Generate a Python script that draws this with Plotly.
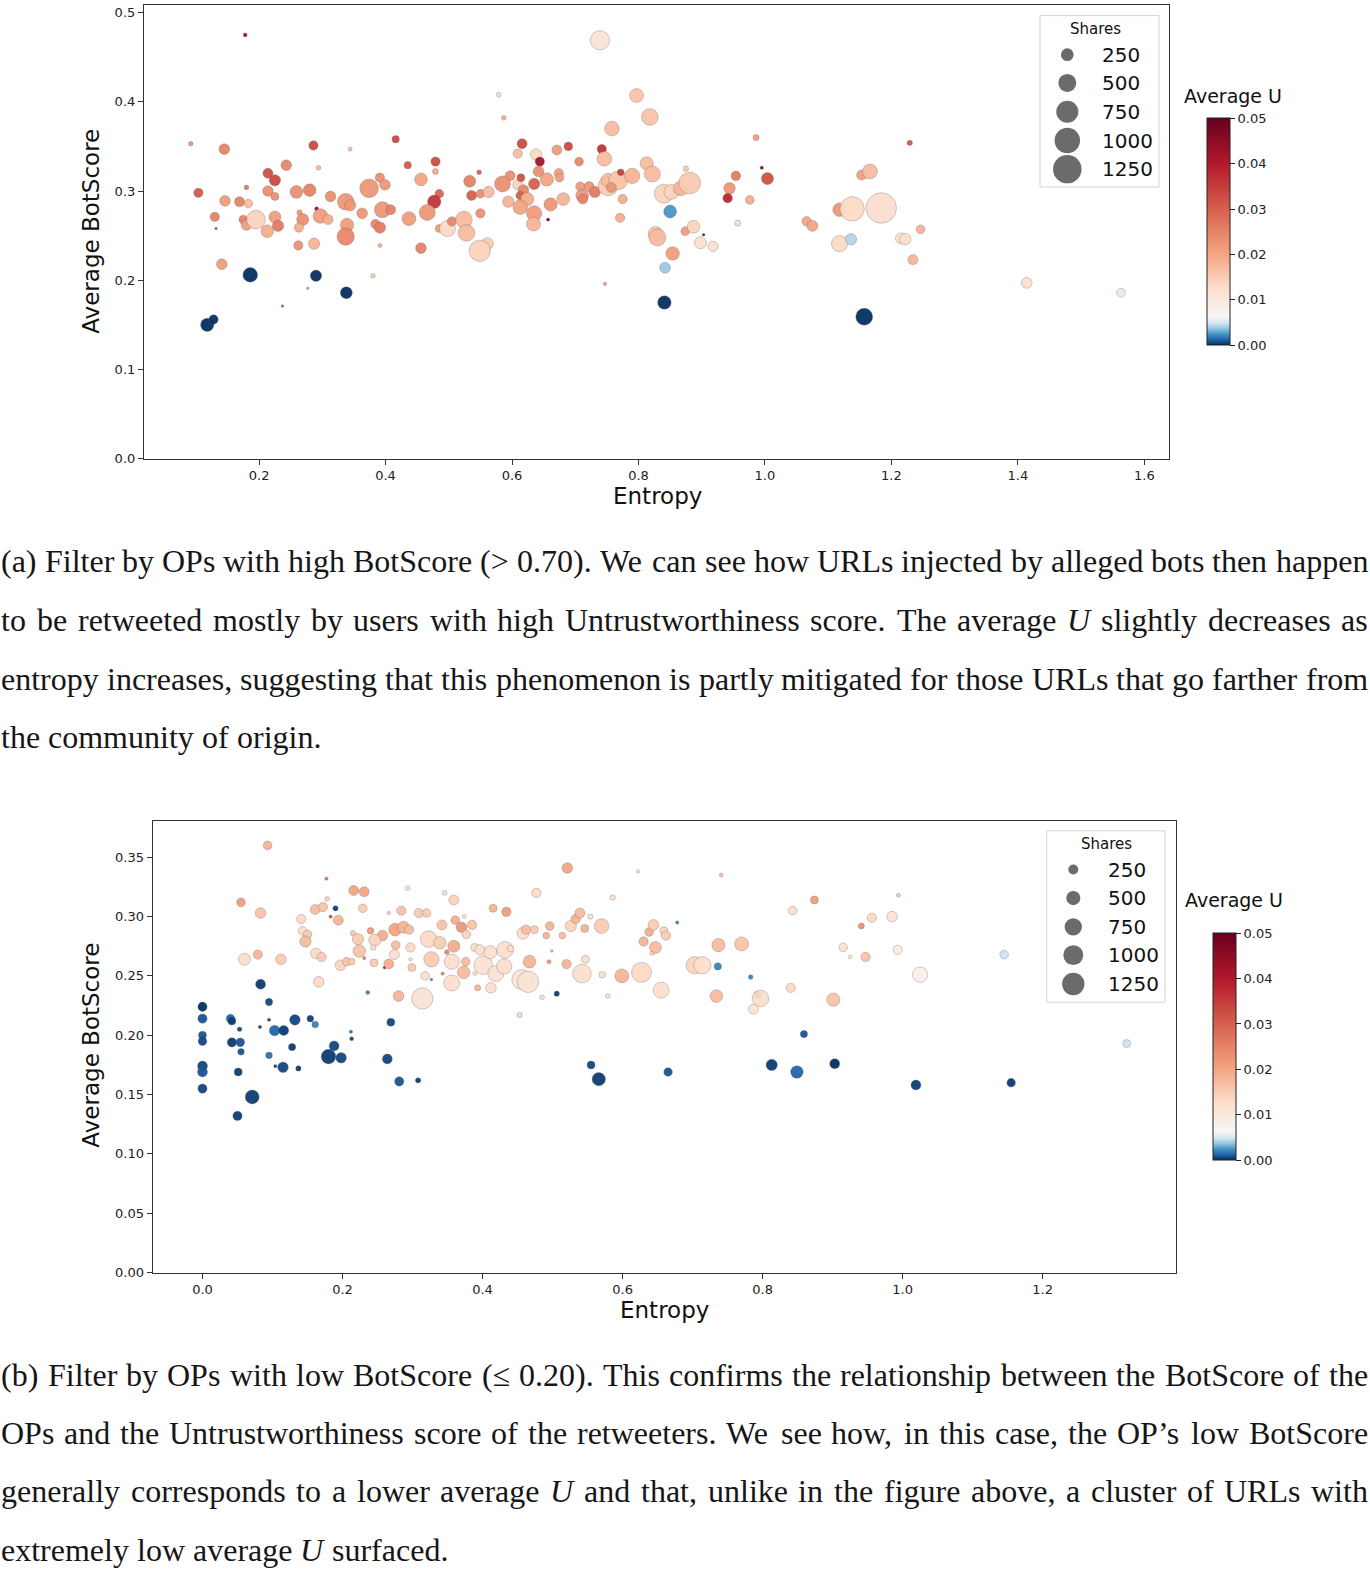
import math
import plotly.graph_objects as go

W = 1370
H = 1575

# ---------------- Data: (a) OPs with high BotScore ----------------
top_entropy = [
    0.178, 0.092, 0.145, 0.286, 0.344, 0.416, 0.104, 0.130, 0.132, 0.146,
    0.169, 0.180, 0.183, 0.175, 0.180, 0.195, 0.214, 0.225, 0.214, 0.225,
    0.243, 0.225, 0.230, 0.213, 0.259, 0.280, 0.294, 0.264, 0.269, 0.263,
    0.291, 0.297, 0.309, 0.313, 0.262, 0.287, 0.337, 0.344, 0.339, 0.337,
    0.363, 0.374, 0.391, 0.399, 0.395, 0.408, 0.384, 0.391, 0.391, 0.437,
    0.435, 0.456, 0.479, 0.479, 0.485, 0.477, 0.466, 0.456, 0.485, 0.498,
    0.505, 0.524, 0.528, 0.561, 0.549, 0.533, 0.548, 0.536, 0.550, 0.563,
    0.550, 0.587, 0.579, 0.616, 0.609, 0.638, 0.644, 0.671, 0.689, 0.706,
    0.742, 0.746, 0.739, 0.797, 0.818, 0.758, 0.642, 0.655, 0.674, 0.675,
    0.597, 0.585, 0.609, 0.614, 0.635, 0.618, 0.613, 0.624, 0.594, 0.613,
    0.635, 0.634, 0.657, 0.661, 0.681, 0.708, 0.722, 0.711, 0.712, 0.731,
    0.752, 0.752, 0.768, 0.772, 0.757, 0.775, 0.771, 0.790, 0.813, 0.822,
    0.827, 0.747, 0.118, 0.128, 0.186, 0.290, 0.338, 0.237, 0.277, 0.380,
    0.141,
    0.986, 1.229, 0.995, 1.004, 0.954, 0.944, 0.941, 0.976, 0.957, 0.903,
    0.850, 0.842, 0.841, 1.157, 0.854, 0.830, 0.874, 0.887, 0.898, 0.918,
    0.840, 0.852, 0.867, 0.881, 0.875,
    1.118, 1.138, 1.184, 1.153, 1.166, 1.066, 1.075, 1.118, 1.136, 1.215,
    1.222, 1.246, 1.234, 1.414, 1.563,
]
top_botscore = [
    0.475, 0.353, 0.347, 0.351, 0.347, 0.358, 0.298, 0.271, 0.258, 0.289,
    0.288, 0.304, 0.286, 0.268, 0.262, 0.268, 0.320, 0.312, 0.300, 0.294,
    0.329, 0.271, 0.261, 0.255, 0.299, 0.301, 0.326, 0.276, 0.268, 0.259,
    0.280, 0.272, 0.268, 0.294, 0.239, 0.241, 0.288, 0.284, 0.262, 0.249,
    0.275, 0.303, 0.315, 0.307, 0.279, 0.279, 0.263, 0.259, 0.239, 0.269,
    0.329, 0.313, 0.333, 0.322, 0.297, 0.288, 0.276, 0.236, 0.258, 0.258,
    0.266, 0.268, 0.253, 0.241, 0.233, 0.311, 0.321, 0.295, 0.297, 0.299,
    0.275, 0.382, 0.408, 0.353, 0.342, 0.341, 0.333, 0.346, 0.350, 0.333,
    0.347, 0.336, 0.469, 0.407, 0.383, 0.370, 0.322, 0.313, 0.320, 0.315,
    0.317, 0.308, 0.307, 0.315, 0.308, 0.301, 0.295, 0.291, 0.288, 0.282,
    0.275, 0.263, 0.268, 0.285, 0.291, 0.305, 0.305, 0.295, 0.291, 0.299,
    0.306, 0.312, 0.312, 0.321, 0.304, 0.291, 0.270, 0.317, 0.331, 0.319,
    0.252, 0.196, 0.150, 0.156, 0.206, 0.205, 0.186, 0.171, 0.191, 0.205,
    0.218,
    0.360, 0.354, 0.326, 0.314, 0.317, 0.303, 0.292, 0.290, 0.264, 0.251,
    0.277, 0.214, 0.175, 0.159, 0.230, 0.248, 0.255, 0.260, 0.242, 0.238,
    0.297, 0.299, 0.303, 0.309, 0.325,
    0.279, 0.280, 0.281, 0.318, 0.322, 0.266, 0.261, 0.241, 0.246, 0.247,
    0.246, 0.257, 0.223, 0.197, 0.186,
]
top_avg_u = [
    0.042, 0.022, 0.025, 0.033, 0.017, 0.033, 0.031, 0.025, 0.002, 0.021,
    0.025, 0.027, 0.017, 0.025, 0.021, 0.014, 0.032, 0.033, 0.023, 0.023,
    0.024, 0.021, 0.026, 0.019, 0.023, 0.025, 0.017, 0.021, 0.023, 0.019,
    0.045, 0.021, 0.019, 0.023, 0.023, 0.018, 0.022, 0.022, 0.021, 0.024,
    0.022, 0.022, 0.023, 0.022, 0.022, 0.025, 0.024, 0.026, 0.019, 0.021,
    0.031, 0.020, 0.033, 0.019, 0.029, 0.036, 0.022, 0.025, 0.021, 0.013,
    0.024, 0.017, 0.017, 0.015, 0.014, 0.025, 0.030, 0.030, 0.023, 0.017,
    0.023, 0.019, 0.013, 0.033, 0.017, 0.013, 0.042, 0.021, 0.033, 0.024,
    0.036, 0.017, 0.011, 0.016, 0.016, 0.017, 0.023, 0.020, 0.021, 0.021,
    0.023, 0.023, 0.014, 0.032, 0.030, 0.024, 0.030, 0.019, 0.018, 0.020,
    0.021, 0.018, 0.048, 0.022, 0.018, 0.021, 0.022, 0.022, 0.025, 0.026,
    0.015, 0.017, 0.016, 0.034, 0.022, 0.019, 0.019, 0.018, 0.017, 0.017,
    0.016, 0.022, 0.000, 0.000, 0.000, 0.000, 0.000, 0.002, 0.023, 0.015,
    0.021,
    0.021, 0.031, 0.045, 0.032, 0.026, 0.022, 0.038, 0.019, 0.005, 0.000,
    0.0025, 0.0038, 0.000, 0.000, 0.021, 0.017, 0.021, 0.014, 0.012, 0.012,
    0.014, 0.014, 0.018, 0.015, 0.015,
    0.022, 0.013, 0.012, 0.021, 0.017, 0.020, 0.020, 0.013, 0.0042, 0.012,
    0.012, 0.018, 0.018, 0.012, 0.0055,
]
top_shares = [
    25, 34, 176, 134, 25, 83, 134, 134, 11, 176,
    154, 34, 116, 116, 176, 538, 154, 198, 176, 99,
    176, 222, 198, 248, 248, 248, 34, 44, 222, 134,
    25, 332, 154, 176, 134, 198, 429, 198, 274, 464,
    176, 538, 134, 176, 395, 154, 134, 198, 25, 302,
    83, 248, 134, 56, 116, 274, 395, 176, 99, 395,
    134, 429, 429, 222, 702, 222, 34, 154, 116, 198,
    134, 34, 34, 154, 134, 198, 134, 154, 116, 116,
    134, 332, 577, 302, 429, 332, 176, 274, 134, 116,
    154, 395, 154, 99, 198, 176, 116, 274, 198, 332,
    363, 302, 17, 274, 248, 134, 154, 248, 154, 198,
    617, 302, 538, 69, 154, 134, 134, 363, 274, 395,
    332, 17, 274, 134, 332, 198, 222, 11, 11, 34,
    176,
    57, 45, 18, 229, 139, 204, 139, 119, 57, 11,
    255, 181, 283, 442, 283, 442, 119, 255, 229, 159,
    554, 342, 342, 724, 45,
    283, 916, 1431, 159, 342, 139, 181, 407, 204, 181,
    204, 119, 159, 181, 119,
]

# ---------------- Data: (b) OPs with low BotScore ----------------
bot_entropy = [
    0.000, 0.000, 0.000, 0.000, 0.000, 0.000, 0.000, 0.040, 0.042, 0.053,
    0.042, 0.054, 0.055, 0.051, 0.050, 0.071, 0.083, 0.095, 0.095, 0.082,
    0.103, 0.116, 0.132, 0.154, 0.161, 0.095, 0.104, 0.115, 0.128, 0.137,
    0.188, 0.180, 0.198, 0.190, 0.212, 0.213, 0.236, 0.269, 0.264, 0.281,
    0.308, 0.327, 0.506, 0.555, 0.566, 0.665, 0.453,
    0.783, 0.793, 0.859, 0.813, 0.849, 0.903, 1.019, 1.145, 1.320, 1.155, 0.678, 0.736,
    0.093, 0.055, 0.083, 0.060, 0.079, 0.112, 0.177, 0.183, 0.178, 0.161,
    0.172, 0.141, 0.216, 0.231, 0.194, 0.229, 0.143, 0.150, 0.147, 0.162,
    0.170, 0.166, 0.197, 0.206, 0.213, 0.215, 0.222, 0.224, 0.231, 0.240,
    0.257, 0.246, 0.244, 0.245, 0.260, 0.266, 0.274,
    0.266, 0.275, 0.287, 0.295, 0.284, 0.276, 0.293, 0.297, 0.297, 0.299,
    0.280, 0.314, 0.309, 0.320, 0.323, 0.327, 0.318, 0.339, 0.342, 0.346,
    0.359, 0.343, 0.349, 0.356, 0.356, 0.359, 0.361, 0.370, 0.374, 0.377,
    0.385, 0.376, 0.373,
    0.393, 0.412, 0.401, 0.411, 0.419, 0.431, 0.432, 0.440, 0.389, 0.396,
    0.415, 0.434, 0.477, 0.456, 0.465, 0.467, 0.485, 0.458, 0.462, 0.474,
    0.491, 0.496, 0.499, 0.495, 0.514, 0.521, 0.520, 0.526, 0.533, 0.539,
    0.546, 0.554, 0.547, 0.542, 0.570, 0.571, 0.579, 0.586, 0.599, 0.627,
    0.622, 0.630, 0.638, 0.644, 0.647, 0.655, 0.659, 0.662, 0.642,
    0.741, 0.389, 0.737, 0.703, 0.714, 0.734,
    0.874, 0.843, 0.994, 0.941, 0.956, 0.985, 0.770, 0.915, 0.925, 0.947, 0.993, 1.025,
    0.840, 0.797, 0.787, 0.901,
]
bot_botscore = [
    0.224, 0.214, 0.200, 0.195, 0.174, 0.169, 0.155, 0.214, 0.212, 0.205,
    0.194, 0.194, 0.186, 0.169, 0.132, 0.148, 0.243, 0.228, 0.213, 0.207,
    0.204, 0.204, 0.213, 0.214, 0.209, 0.183, 0.174, 0.173, 0.190, 0.172,
    0.191, 0.182, 0.181, 0.307, 0.203, 0.197, 0.236, 0.211, 0.180, 0.161,
    0.162, 0.247, 0.235, 0.175, 0.163, 0.169, 0.217,
    0.249, 0.234, 0.201, 0.175, 0.169, 0.176, 0.158, 0.268, 0.193, 0.160, 0.295, 0.258,
    0.360, 0.312, 0.303, 0.264, 0.268, 0.264, 0.332, 0.300, 0.315, 0.306,
    0.308, 0.298, 0.322, 0.321, 0.297, 0.307, 0.288, 0.285, 0.279, 0.269,
    0.266, 0.245, 0.259, 0.262, 0.262, 0.286, 0.281, 0.271, 0.265, 0.288,
    0.284, 0.280, 0.274, 0.261, 0.257, 0.260, 0.268,
    0.303, 0.289, 0.291, 0.289, 0.305, 0.276, 0.324, 0.274, 0.264, 0.257,
    0.233, 0.231, 0.303, 0.303, 0.281, 0.264, 0.250, 0.278, 0.293, 0.320,
    0.314, 0.252, 0.270, 0.244, 0.262, 0.275, 0.297, 0.291, 0.300, 0.285,
    0.293, 0.262, 0.253,
    0.240, 0.240, 0.259, 0.270, 0.252, 0.258, 0.272, 0.273, 0.274, 0.272,
    0.307, 0.304, 0.320, 0.247, 0.245, 0.262, 0.232, 0.286, 0.289, 0.289,
    0.284, 0.292, 0.271, 0.262, 0.284, 0.341, 0.260, 0.292, 0.298, 0.303,
    0.290, 0.300, 0.264, 0.252, 0.292, 0.251, 0.233, 0.316, 0.250, 0.253,
    0.338, 0.279, 0.287, 0.293, 0.274, 0.238, 0.288, 0.284, 0.269,
    0.335, 0.252, 0.276, 0.259, 0.259, 0.233,
    0.314, 0.305, 0.318, 0.292, 0.299, 0.300, 0.277, 0.274, 0.266, 0.266, 0.272, 0.251,
    0.240, 0.231, 0.222, 0.230,
]
bot_avg_u = [
    0.0000, 0.0008, 0.0008, 0.0005, 0.0005, 0.0008, 0.0005, 0.0012, 0.0003, 0.0005,
    0.0003, 0.0008, 0.0008, 0.0003, 0.0003, 0.0003, 0.0003, 0.0005, 0.0003, 0.0003,
    0.0012, 0.0003, 0.0005, 0.0003, 0.0020, 0.0015, 0.0003, 0.0005, 0.0003, 0.0003,
    0.0005, 0.0003, 0.0005, 0.0003, 0.0015, 0.0005, 0.0020, 0.0005, 0.0005, 0.0008,
    0.0003, 0.0020, 0.0003, 0.0005, 0.0003, 0.0008, 0.0048,
    0.0020, 0.0003, 0.0008, 0.0003, 0.0012, 0.0000, 0.0003, 0.0048, 0.0048, 0.0003, 0.0020, 0.0020,
    0.018, 0.021, 0.016, 0.012, 0.018, 0.015, 0.028, 0.033, 0.014, 0.017,
    0.016, 0.013, 0.020, 0.020, 0.018, 0.015, 0.012, 0.015, 0.017, 0.013,
    0.015, 0.013, 0.014, 0.016, 0.015, 0.015, 0.015, 0.016, 0.025, 0.021,
    0.019, 0.014, 0.013, 0.015, 0.045, 0.019, 0.012,
    0.015, 0.020, 0.018, 0.017, 0.016, 0.017, 0.012, 0.013, 0.012, 0.015,
    0.018, 0.011, 0.015, 0.015, 0.013, 0.015, 0.012, 0.015, 0.016, 0.012,
    0.014, 0.026, 0.025, 0.012, 0.012, 0.019, 0.019, 0.022, 0.012, 0.014,
    0.016, 0.017, 0.017,
    0.018, 0.012, 0.011, 0.012, 0.011, 0.012, 0.012, 0.012, 0.012, 0.012,
    0.018, 0.021, 0.013, 0.011, 0.011, 0.018, 0.012, 0.012, 0.017, 0.015,
    0.018, 0.018, 0.020, 0.022, 0.017, 0.020, 0.018, 0.014, 0.018, 0.017,
    0.018, 0.012, 0.012, 0.012, 0.015, 0.012, 0.012, 0.012, 0.018, 0.013,
    0.013, 0.018, 0.019, 0.015, 0.017, 0.012, 0.014, 0.015, 0.014,
    0.016, 0.012, 0.017, 0.014, 0.012, 0.017,
    0.021, 0.012, 0.015, 0.023, 0.013, 0.011, 0.016, 0.011, 0.010, 0.016, 0.009, 0.008,
    0.013, 0.012, 0.011, 0.016,
]
bot_shares = [
    217, 217, 160, 187, 249, 249, 217, 187, 160, 54,
    217, 187, 111, 160, 217, 489, 249, 134, 28, 28,
    284, 249, 284, 111, 111, 111, 28, 284, 134, 71,
    249, 536, 284, 71, 28, 40, 40, 160, 249, 217,
    71, 18, 71, 160, 443, 187, 71,
    54, 134, 134, 320, 400, 249, 249, 187, 160, 187, 28, 134,
    187, 187, 284, 359, 217, 284, 28, 28, 54, 249,
    217, 217, 249, 249, 249, 187, 187, 187, 320, 284,
    217, 284, 284, 187, 111, 71, 320, 400, 28, 111,
    284, 359, 71, 160, 18, 249, 249,
    28, 400, 359, 217, 217, 187, 54, 217, 28, 160,
    284, 1135, 217, 187, 693, 586, 187, 400, 249, 54,
    249, 28, 54, 638, 586, 359, 187, 284, 40, 187,
    217, 187, 400,
    90, 284, 869, 443, 638, 586, 693, 111, 160, 249,
    160, 217, 217, 997, 1135, 400, 54, 359, 217, 160,
    111, 187, 18, 40, 111, 284, 217, 320, 217, 249,
    160, 71, 160, 869, 536, 111, 54, 71, 489, 997,
    28, 217, 187, 284, 359, 638, 160, 217, 40,
    40, 40, 443, 749, 749, 400,
    160, 187, 40, 90, 217, 284, 489, 187, 40, 217, 217, 586,
    217, 693, 249, 443,
]

legend_shares = [250, 500, 750, 1000, 1250]
cbar_ticks = [0.00, 0.01, 0.02, 0.03, 0.04, 0.05]
top_xticks = [0.2, 0.4, 0.6, 0.8, 1.0, 1.2, 1.4, 1.6]
top_yticks = [0.0, 0.1, 0.2, 0.3, 0.4, 0.5]
bot_xticks = [0.0, 0.2, 0.4, 0.6, 0.8, 1.0, 1.2]
bot_yticks = [0.00, 0.05, 0.10, 0.15, 0.20, 0.25, 0.30, 0.35]

CAP_A = [
    "(a) Filter by OPs with high BotScore (> 0.70). We can see how URLs injected by alleged bots then happen",
    "to be retweeted mostly by users with high Untrustworthiness score. The average *U* slightly decreases as",
    "entropy increases, suggesting that this phenomenon is partly mitigated for those URLs that go farther from",
    "the community of origin.",
]
CAP_B = [
    "(b) Filter by OPs with low BotScore (\u2264 0.20). This confirms the relationship between the BotScore of the",
    "OPs and the Untrustworthiness score of the retweeters. We see how, in this case, the OP\u2019s low BotScore",
    "generally corresponds to a lower average *U* and that, unlike in the figure above, a cluster of URLs with",
    "extremely low average *U* surfaced.",
]

for a, b in [(top_entropy, top_botscore), (top_entropy, top_avg_u), (top_entropy, top_shares),
             (bot_entropy, bot_botscore), (bot_entropy, bot_avg_u), (bot_entropy, bot_shares)]:
    assert len(a) == len(b), (len(a), len(b))

# ---------------- Styling ----------------
SANS = "DejaVu Sans"
SERIF = "Liberation Serif"
K_TOP = 0.805   # px diameter per sqrt(share)
K_BOT = 0.632

rdbu = ["#053061", "#2166ac", "#4393c3", "#92c5de", "#d1e5f0", "#f7f7f7",
        "#fddbc7", "#f4a582", "#d6604d", "#b2182b", "#67001f"]
pos = [0.0, 0.024, 0.048, 0.072, 0.096, 0.125, 0.26, 0.40, 0.60, 0.80, 1.0]
CSCALE = [[p, c] for p, c in zip(pos, rdbu)]


def PX(x):
    return x / W


def PY(y):
    return 1 - y / H


fig = go.Figure()

marker_line = dict(width=0.7, color="rgba(95,95,95,0.45)")
fig.add_trace(go.Scatter(
    x=top_entropy, y=top_botscore, mode="markers", xaxis="x", yaxis="y",
    marker=dict(size=[K_TOP * math.sqrt(s) for s in top_shares], color=top_avg_u,
                coloraxis="coloraxis", opacity=0.95, line=marker_line),
    showlegend=False, hoverinfo="skip"))
fig.add_trace(go.Scatter(
    x=bot_entropy, y=bot_botscore, mode="markers", xaxis="x2", yaxis="y2",
    marker=dict(size=[K_BOT * math.sqrt(s) for s in bot_shares], color=bot_avg_u,
                coloraxis="coloraxis2", opacity=0.95, line=marker_line),
    showlegend=False, hoverinfo="skip"))

axis_common = dict(showgrid=False, zeroline=False, showline=True, mirror=True,
                   linecolor="#333333", linewidth=1.2, ticks="outside", ticklen=5,
                   tickwidth=1, tickcolor="#333333",
                   tickfont=dict(family=SANS, size=13, color="#222222"))

cbar_common = dict(thickness=23, lenmode="pixels", len=227, xanchor="left", yanchor="middle",
                   xpad=0, ypad=0, outlinewidth=1, outlinecolor="#222222",
                   ticks="outside", ticklen=5, tickwidth=1, tickcolor="#222222",
                   tickvals=cbar_ticks, ticktext=[f"{v:.2f}" for v in cbar_ticks],
                   tickfont=dict(family=SANS, size=13, color="#222222"))

fig.update_layout(
    width=W, height=H, margin=dict(l=0, r=0, t=0, b=0),
    paper_bgcolor="white", plot_bgcolor="white", showlegend=False,
    xaxis=dict(domain=[PX(144), PX(1169)], range=[0.018, 1.639], anchor="y",
               tickvals=top_xticks, ticktext=[f"{v:.1f}" for v in top_xticks], **axis_common),
    yaxis=dict(domain=[PY(461), PY(5.5)], range=[0.0, 0.508], anchor="x",
               tickvals=top_yticks, ticktext=[f"{v:.1f}" for v in top_yticks], **axis_common),
    xaxis2=dict(domain=[PX(152.7), PX(1175.7)], range=[-0.0711, 1.390], anchor="y2",
                tickvals=bot_xticks, ticktext=[f"{v:.1f}" for v in bot_xticks], **axis_common),
    yaxis2=dict(domain=[PY(1279), PY(824.7)], range=[0.0, 0.381], anchor="x2",
                tickvals=bot_yticks, ticktext=[f"{v:.2f}" for v in bot_yticks], **axis_common),
    coloraxis=dict(colorscale=CSCALE, cmin=0, cmax=0.05,
                   colorbar=dict(x=PX(1207), y=PY(233), **cbar_common)),
    coloraxis2=dict(colorscale=CSCALE, cmin=0, cmax=0.05,
                    colorbar=dict(x=PX(1213), y=PY(1052), **cbar_common)),
)

annotations = []
shapes = []


def text_at(x, y, txt, size, family=SANS, xanchor="center", angle=0, color="#111111"):
    annotations.append(dict(x=PX(x), y=PY(y), xref="paper", yref="paper", text=txt,
                            showarrow=False, xanchor=xanchor, yanchor="middle",
                            textangle=angle, borderpad=0, borderwidth=0,
                            font=dict(family=family, size=size, color=color)))


# axis titles
text_at(657, 499, "Entropy", 23)
text_at(91, 233, "Average BotScore", 23, angle=-90)
text_at(664, 1317, "Entropy", 23)
text_at(91, 1051, "Average BotScore", 23, angle=-90)
# colorbar titles
text_at(1233, 96, "Average U", 19)
text_at(1234, 905, "Average U", 19)


def size_legend(box, title_xy, cx, cys, tx, k):
    x0, y0, x1, y1 = box
    shapes.append(dict(type="rect", xref="paper", yref="paper", x0=PX(x0), x1=PX(x1),
                       y0=PY(y1), y1=PY(y0), line=dict(color="#d4d4d4", width=1),
                       fillcolor="white", layer="above"))
    text_at(title_xy[0], title_xy[1], "Shares", 15)
    for v, cy in zip(legend_shares, cys):
        r = k * math.sqrt(v) / 2
        shapes.append(dict(type="circle", xref="paper", yref="paper",
                           xsizemode="pixel", ysizemode="pixel",
                           xanchor=PX(cx), yanchor=PY(cy), x0=-r, x1=r, y0=-r, y1=r,
                           fillcolor="#6b6b6b", line=dict(width=0), layer="above"))
        text_at(tx, cy, str(v), 20, xanchor="left")


size_legend((1040, 15.7, 1159, 188), (1095, 29), 1067.3, [55, 83.3, 112.3, 141.3, 170], 1102, K_TOP)
size_legend((1046.7, 835, 1165, 1007.3), (1106, 848.3), 1073.3, [874, 902.7, 931.7, 960, 989], 1108, K_BOT)

# ---------------- Captions (justified using Times metrics) ----------------
TW = {' ': 250, 'a': 444, 'b': 500, 'c': 444, 'd': 500, 'e': 444, 'f': 333, 'g': 500, 'h': 500,
      'i': 278, 'j': 278, 'k': 500, 'l': 278, 'm': 778, 'n': 500, 'o': 500, 'p': 500, 'q': 500,
      'r': 333, 's': 389, 't': 278, 'u': 500, 'v': 500, 'w': 722, 'x': 500, 'y': 500, 'z': 444,
      'A': 722, 'B': 667, 'C': 667, 'D': 722, 'E': 611, 'F': 556, 'G': 722, 'H': 722, 'I': 333,
      'J': 389, 'K': 722, 'L': 611, 'M': 889, 'N': 722, 'O': 722, 'P': 556, 'Q': 722, 'R': 667,
      'S': 556, 'T': 611, 'U': 722, 'V': 722, 'W': 944, 'X': 722, 'Y': 722, 'Z': 611,
      '.': 250, ',': 250, '(': 333, ')': 333, '>': 564, '\u2264': 549, '\u2019': 333, '-': 333}
for d in "0123456789":
    TW[d] = 500

CAP_SIZE = 32
X_LEFT, X_RIGHT = 1.0, 1368.0


def word_info(w):
    if w.startswith("*") and w.endswith("*"):
        core = w[1:-1]
        return "<i>" + core + "</i>", sum(TW.get(c, 500) for c in core) * CAP_SIZE / 1000
    txt = w.replace(">", "&gt;")
    return txt, sum(TW.get(c, 500) for c in w) * CAP_SIZE / 1000


def caption(lines, ys):
    for i, (line, y) in enumerate(zip(lines, ys)):
        words = line.split(" ")
        info = [word_info(w) for w in words]
        if i == len(lines) - 1:
            gap = TW[' '] * CAP_SIZE / 1000
        else:
            gap = (X_RIGHT - X_LEFT - sum(w for _, w in info)) / (len(words) - 1)
        x = X_LEFT
        for txt, w in info:
            text_at(x, y, txt, CAP_SIZE, family=SERIF, xanchor="left", color="#161616")
            x += w + gap


caption(CAP_A, [563.5, 622.7, 682, 741.2])
caption(CAP_B, [1382, 1440.3, 1498.6, 1557.8])

fig.update_layout(annotations=annotations, shapes=shapes)
fig.write_html("out.html", config={"displayModeBar": False},
               post_script="document.body.style.margin='0px';")
